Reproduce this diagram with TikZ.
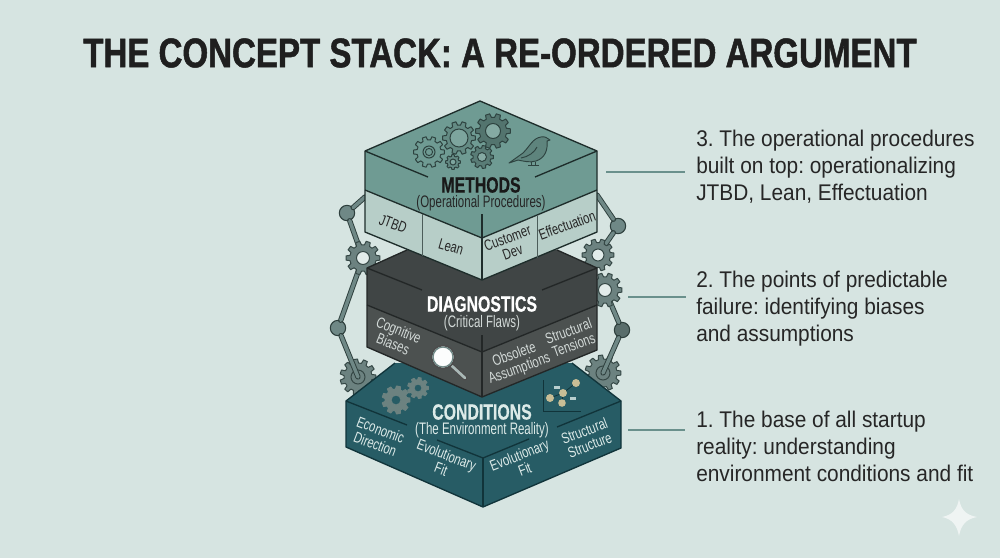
\documentclass[tikz,border=0pt]{standalone}
\usepackage{fontspec}
\setmainfont{Liberation Sans}
\frenchspacing
\newfontfamily\nrw[FakeStretch=0.69]{Liberation Sans}
\newfontfamily\pnl[FakeStretch=0.74]{Liberation Sans}
\newfontfamily\ttl[FakeStretch=0.80,FakeBold=1.2]{Liberation Sans Bold}
\newfontfamily\bnr[FakeStretch=0.72,FakeBold=0.6]{Liberation Sans Bold}
\newfontfamily\lbl[FakeStretch=0.92]{Liberation Sans}
\newcommand{\fs}[2]{\fontsize{#1}{#2}\selectfont}
\definecolor{bgc}{HTML}{D6E4E1}
\definecolor{mtop}{HTML}{6F9B93}
\definecolor{mpan}{HTML}{B7CEC8}
\definecolor{mline}{HTML}{1E2D2B}
\definecolor{dtop}{HTML}{404545}
\definecolor{dpan}{HTML}{4C5150}
\definecolor{dline}{HTML}{232727}
\definecolor{ctop}{HTML}{275C65}
\definecolor{cline}{HTML}{11343A}
\definecolor{armc}{HTML}{6F8886}
\definecolor{gearc}{HTML}{6C8280}
\definecolor{lead}{HTML}{6A908C}
\definecolor{ctxt}{HTML}{DCEAE8}
\definecolor{dtxt}{HTML}{D3DAD8}
\definecolor{dot}{HTML}{C9BE96}
% x, y, outer radius, hole radius, teeth, fill, hole fill, line
\newcommand{\gearat}[8]{%
  \pgfmathsetmacro{\dd}{360/#5}%
  \pgfmathsetmacro{\ri}{#3*0.78}%
  \draw[shift={(#1,#2)},fill=#6,draw=#8,line width=0.75pt,line join=round]
    (-0.32*\dd:\ri)
    \foreach \k in {1,...,#5}{
      -- ({(\k-1)*\dd-0.32*\dd}:\ri) -- ({(\k-1)*\dd-0.2*\dd}:#3) -- ({(\k-1)*\dd+0.2*\dd}:#3) -- ({(\k-1)*\dd+0.32*\dd}:\ri)
    } -- cycle;
  \draw[fill=#7,draw=#8,line width=0.75pt] (#1,#2) circle (#4);
}
\tikzset{
  arm/.style={draw=#1,line width=0.7pt,double=armc,double distance=2.6pt,line cap=round},
  arm/.default=mline!80!armc,
  joint/.style={circle,draw=mline!80!armc,line width=0.8pt,fill=#1,minimum size=11.5pt,inner sep=0},
  joint/.default=armc,
  leader/.style={draw=lead,line width=1pt},
  edge3/.style={line width=1pt,line join=round},
  head/.style={inner sep=0,font=\bnr\fs{16.5}{18}},
  sub/.style={inner sep=0,font=\nrw\fs{12.5}{14}},
  pan/.style={inner sep=0,align=center,font=\pnl\fs{11.4}{11.4}},
  side/.style={inner sep=0,anchor=west,align=left,text=black!85,font=\lbl\fs{17}{20.25}}
}
\begin{document}
\begin{tikzpicture}[x=0.75pt,y=-0.75pt]
\useasboundingbox (0,0) rectangle (1000,558);
\fill[bgc] (0,0) rectangle (1000,558);
% title
\node[inner sep=0,text=black!88] (title) at (500,53) {\ttl\fs{31}{34}THE CONCEPT STACK: A RE-ORDERED ARGUMENT};
% named places
\coordinate (gL1) at (363,258);
\coordinate (gL2) at (358,377);
\coordinate (gR1) at (598,255);
\coordinate (gR2) at (605,290);
\coordinate (gR3) at (603,373);
\coordinate (aL) at (365,197);
\coordinate (aR) at (597,195);
% lower gears (under the arms)
\gearat{358}{377}{18}{7}{11}{gearc}{gearc}{mline!70!armc}
\gearat{603}{373}{18}{7}{11}{gearc}{gearc}{mline!70!armc}
% joints
\node[joint] (jL1) at (347,213) {};
\node[joint] (jL2) at (338,328) {};
\node[joint] (jR1) at (618,226) {};
\node[joint=armc!80!black] (jR2) at (622,330) {};
% arms
\draw[arm] (aL) -- (jL1);
\draw[arm] (jL1) -- (gL1);
\draw[arm] (gL1) -- (jL2);
\draw[arm] (jL2) -- (gL2);
\draw[arm] (aR) -- (jR1);
\draw[arm] (jR1) -- (gR1);
\draw[arm] (gR2) -- (jR2);
\draw[arm] (jR2) -- (gR3);
% upper gears
\gearat{363}{258}{17}{6.5}{10}{gearc}{bgc!70!white}{mline!70!armc}
\gearat{598}{255}{16}{6}{10}{gearc}{bgc!70!white}{mline!70!armc}
\gearat{605}{290}{17}{6.5}{10}{gearc}{bgc!70!white}{mline!70!armc}
% ===== CONDITIONS =====
\fill[ctop] (346,401) -- (395,363) -- (572,363) -- (621,401) -- (621,448) -- (483,507) -- (346,447) -- cycle;
\draw[cline,edge3] (395,363) -- (346,401) -- (346,447) -- (483,507) -- (621,448) -- (621,401) -- (572,363);
\draw[cline,edge3] (346,401) -- (407,425);
\draw[cline,edge3] (437,440) -- (483,458) -- (529,439);
\draw[cline,edge3] (557,427) -- (621,401);
\draw[cline,edge3] (483,458) -- (483,507);
\gearat{396}{400}{14}{5}{9}{gearc}{ctop}{gearc}
\gearat{418}{388}{10.5}{4}{9}{gearc}{ctop}{gearc}
\draw[cline,line width=0.6pt] (543,380) -- (543,411) -- (581,411);
\draw[cline,line width=0.6pt] (550,398) -- (563,393) -- (576,383);
\draw[cline,line width=0.6pt] (563,393) -- (562,403);
\foreach \p/\r in {{(550,398)}/4,{(563,393)}/4,{(562,403)}/3.8,{(576,383)}/4}
  \fill[dot] \p circle (\r);
\fill[ctxt!80!ctop] (554,386) rectangle (560,389);
\fill[ctxt!80!ctop] (570,397) rectangle (576,400);
\node[head,text=ctxt] (cond) at (482,412) {CONDITIONS};
\node[sub,text=ctxt] (condsub) at (482,430) {(The Environment Reality)};
\node[pan,text=ctxt,rotate=-21] (c1) at (378,437) {Economic\\Direction};
\node[pan,text=ctxt,rotate=-21] (c2) at (444,462) {Evolutionary\\Fit};
\node[pan,text=ctxt,rotate=21] (c3) at (522,462) {Evolutionary\\Fit};
\node[pan,text=ctxt,rotate=21] (c4) at (587,438) {Structural\\Structure};
% ===== DIAGNOSTICS =====
\fill[dtop] (367,268) -- (407,250) -- (557,250) -- (597,268) -- (597,305) -- (482,352) -- (367,305) -- cycle;
\fill[dpan] (367,305) -- (482,352) -- (597,305) -- (597,350) -- (482,397) -- (367,347) -- cycle;
\draw[dline,edge3] (407,250) -- (367,268) -- (367,347) -- (482,397) -- (597,350) -- (597,268) -- (557,250);
\draw[dline,edge3] (367,268) -- (422,290);
\draw[dline,edge3] (542,290) -- (597,268);
\draw[dline,edge3] (367,305) -- (482,352) -- (597,305);
\draw[dline,edge3] (482,335) -- (482,397);
\draw[draw=black!70,line width=3.6pt,line cap=round] (452,366) -- (465,378);
\draw[draw=armc!60!white,line width=2pt,line cap=round] (452,366) -- (465,378);
\draw[fill=white!92!bgc,draw=black!70,line width=1.2pt] (443,357) circle (11.5);
\draw[armc,line width=1pt] (443,357) circle (10);
\node[head,text=white] (diag) at (482,304) {DIAGNOSTICS};
\node[sub,text=dtxt] (diagsub) at (482,323) {(Critical Flaws)};
\node[pan,text=dtxt,rotate=-22] (d1) at (396,337) {Cognitive\\Biases};
\node[pan,text=dtxt,rotate=20] (d2) at (517,362) {Obsolete\\Assumptions};
\node[pan,text=dtxt,rotate=20] (d3) at (571,338) {Structural\\Tensions};
% ===== METHODS =====
\fill[mtop] (480,101) -- (597,151) -- (597,190) -- (482,238) -- (365,190) -- (365,151) -- cycle;
\fill[mpan] (365,190) -- (482,238) -- (597,190) -- (597,232) -- (482,280) -- (365,232) -- cycle;
\draw[mline,edge3] (480,101) -- (597,151) -- (597,232) -- (482,280) -- (365,232) -- (365,151) -- cycle;
\draw[mline,edge3] (365,151) -- (428,177);
\draw[mline,edge3] (535,177) -- (597,151);
\draw[mline,edge3] (365,190) -- (482,238) -- (597,190);
\draw[mline,edge3] (482,214) -- (482,280);
\draw[mline!70!mpan,line width=0.7pt] (422,214) -- (422,256);
\draw[mline!70!mpan,line width=0.7pt] (537,216) -- (537,258);
\gearat{429}{152}{15.5}{6}{10}{mtop}{mtop}{mline!80!mtop}
\draw[mline!80!mtop,line width=0.7pt] (429,152) circle (3.6);
\gearat{459}{138}{16.5}{9}{10}{mtop!90!black}{mtop!90!white}{mline!80!mtop}
\gearat{493}{131}{17.5}{7.5}{10}{mtop!75!black}{mtop!85!white}{mline!80!mtop}
\gearat{482}{157}{11.5}{4.5}{9}{mtop!80!black}{mtop!85!white}{mline!80!mtop}
\gearat{453}{162}{7.5}{3}{8}{mtop!90!black}{mtop!90!white}{mline!80!mtop}
% bird
\draw[fill=mtop!85!black,draw=mline!80!mtop,line width=0.7pt,line join=round]
  (509,163) -- (523,153) .. controls (530,146) and (533,138) .. (541,137)
  .. controls (545,136) and (547,138) .. (550,140) -- (547,141)
  .. controls (548,150) and (545,158) .. (536,161)
  .. controls (530,163) and (523,161) .. (518,160) -- cycle;
\draw[mline!80!mtop,line width=0.7pt] (521,158) .. controls (528,157) and (535,152) .. (537,147);
\draw[mline!80!mtop,line width=0.7pt] (531,162) -- (531,165) (535,162) -- (535,165) (528,165) -- (539,165);
\node[head,text=black!90] (meth) at (481,185) {METHODS};
\node[sub,text=black!85] (methsub) at (481,203.5) {(Operational Procedures)};
\node[pan,text=black!85,rotate=-20] (m1) at (393,224) {JTBD};
\node[pan,text=black!85,rotate=-16] (m2) at (451,247) {Lean};
\node[pan,text=black!85,rotate=20] (m3) at (510,245) {Customer\\Dev};
\node[pan,text=black!85,rotate=20] (m4) at (567,225) {Effectuation};
% ===== leaders and notes =====
\node[side] (n3) at (696,167) {3. The operational procedures\\built on top: operationalizing\\JTBD, Lean, Effectuation};
\node[side] (n2) at (696,309) {2. The points of predictable\\failure: identifying biases\\and assumptions};
\node[side] (n1) at (696,446) {1. The base of all startup\\reality: understanding\\environment conditions and fit};
\coordinate (l3a) at (606,172); \coordinate (l3b) at (685,172);
\coordinate (l2a) at (628,297); \coordinate (l2b) at (686,297);
\coordinate (l1a) at (628,430); \coordinate (l1b) at (685,430);
\draw[leader] (l3a) -- (l3b);
\draw[leader] (l2a) -- (l2b);
\draw[leader] (l1a) -- (l1b);
% star
\fill[white!60!bgc] (959,499) .. controls (961,510) and (966,515) .. (977,517)
  .. controls (966,519) and (961,525) .. (959,536)
  .. controls (957,525) and (952,519) .. (942,517)
  .. controls (952,515) and (957,510) .. (959,499) -- cycle;
\end{tikzpicture}
\end{document}
